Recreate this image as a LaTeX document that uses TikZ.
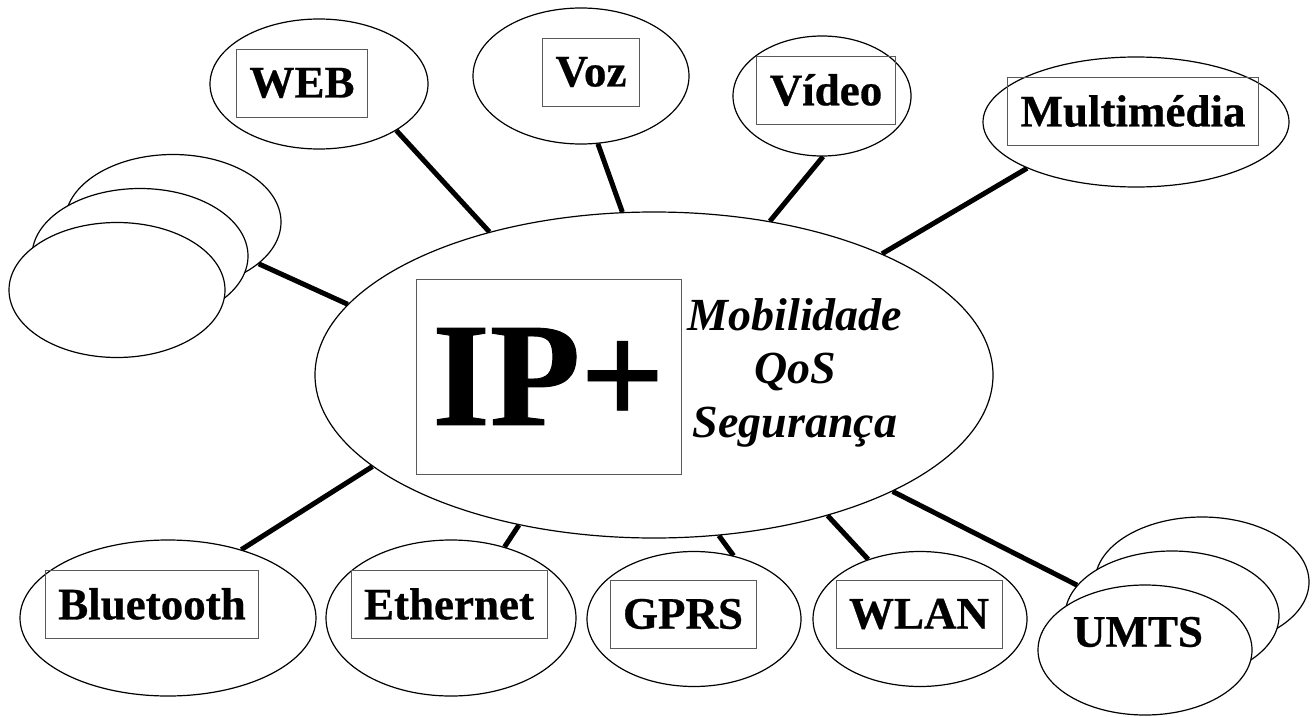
\documentclass[tikz,border=0pt]{standalone}
\usepackage{fontspec}
\setmainfont{Liberation Serif}[BoldFeatures={FakeBold=0.6}]
\usetikzlibrary{shapes.geometric}
\pgfdeclarelayer{background}
\pgfsetlayers{background,main}
\begin{document}
\begin{tikzpicture}[x=1pt,y=-1pt,
  bub/.style={ellipse,draw=black,line width=1.2pt,fill=white,inner sep=0pt},
  lab/.style={draw=black!65,line width=0.9pt,inner xsep=13pt,inner ysep=0pt,minimum height=68pt,font=\fontsize{45}{54}\selectfont\bfseries},
  link/.style={line width=5pt},
  ital/.style={font=\fontsize{46}{54}\selectfont\bfseries\itshape,anchor=base,inner sep=0pt}]
\useasboundingbox (0,0) rectangle (1314,717);

% central ellipse
\node[bub,minimum width=678pt,minimum height=326pt] (ip) at (654,375) {};
\node[draw=black!65,line width=0.9pt,minimum width=265pt,minimum height=195pt,inner sep=0pt,
      font=\fontsize{148}{150}\selectfont\bfseries] (ipbox) at (548.5,376.5) {IP+};
\node[ital] (t1) at (795,330) {Mobilidade};
\node[ital] (t2) at (795,383) {QoS};
\node[ital] (t3) at (795,437) {Segurança};

% top satellites
\node[bub,minimum width=218pt,minimum height=130pt] (web) at (319,84) {};
\node[lab] (webl) at (302,83) {WEB};
\node[bub,minimum width=216pt,minimum height=136pt] (voz) at (581,76) {};
\node[lab] (vozl) at (591,72) {Voz};
\node[bub,minimum width=178pt,minimum height=120pt] (video) at (822,96) {};
\node[lab] (videol) at (826,90) {Vídeo};
\node[bub,minimum width=306pt,minimum height=130pt] (mm) at (1136,122) {};
\node[lab] (mml) at (1133,111) {Multimédia};

% left stack
\node[bub,minimum width=216pt,minimum height=135pt] (lb) at (173,222) {};
\node[bub,minimum width=216pt,minimum height=135pt] (lm) at (140,256) {};
\node[bub,minimum width=216pt,minimum height=135pt] (lf) at (117,290) {};

% bottom satellites
\node[bub,minimum width=296pt,minimum height=156pt] (bt) at (168,618) {};
\node[lab] (btl) at (152,604) {Bluetooth};
\node[bub,minimum width=250pt,minimum height=156pt] (eth) at (451,618) {};
\node[lab] (ethl) at (449,604) {Ethernet};
\node[bub,minimum width=214pt,minimum height=135pt] (gprs) at (694,619) {};
\node[lab] (gprsl) at (683,614) {GPRS};
\node[bub,minimum width=214pt,minimum height=135pt] (wlan) at (920,619) {};
\node[lab] (wlanl) at (919,614) {WLAN};

% UMTS stack
\node[bub,minimum width=214pt,minimum height=130pt] (ub) at (1202,582) {};
\node[bub,minimum width=214pt,minimum height=130pt] (um) at (1172,616) {};
\node[bub,minimum width=214pt,minimum height=130pt] (uf) at (1145,650) {};
\node[font=\fontsize{45}{54}\selectfont\bfseries,inner sep=0pt] (umts) at (1138,632) {UMTS};

\begin{pgfonlayer}{background}
\fill[white] (0,0) rectangle (1314,717);
\draw[link] (web.-31.2) -- (ip.139.4);
\draw[link] (voz.-76) -- (ip.101.4);
\draw[link] (video.-89) -- (ip.53.9);
\draw[link] (mm.-157) -- (ip.28.2);
\draw[link] (lb.-26.6) -- (ip.167.8);
\draw[link] (bt.43) -- (ip.-162.6);
\draw[link] (eth.53.8) -- (ip.-132.8);
\draw[link] (gprs.58.6) -- (ip.-68.5);
\draw[link] (wlan.131.5) -- (ip.-39.4);
\draw[link] (um.162.8) -- (ip.-26.1);
\end{pgfonlayer}
\end{tikzpicture}
\end{document}
